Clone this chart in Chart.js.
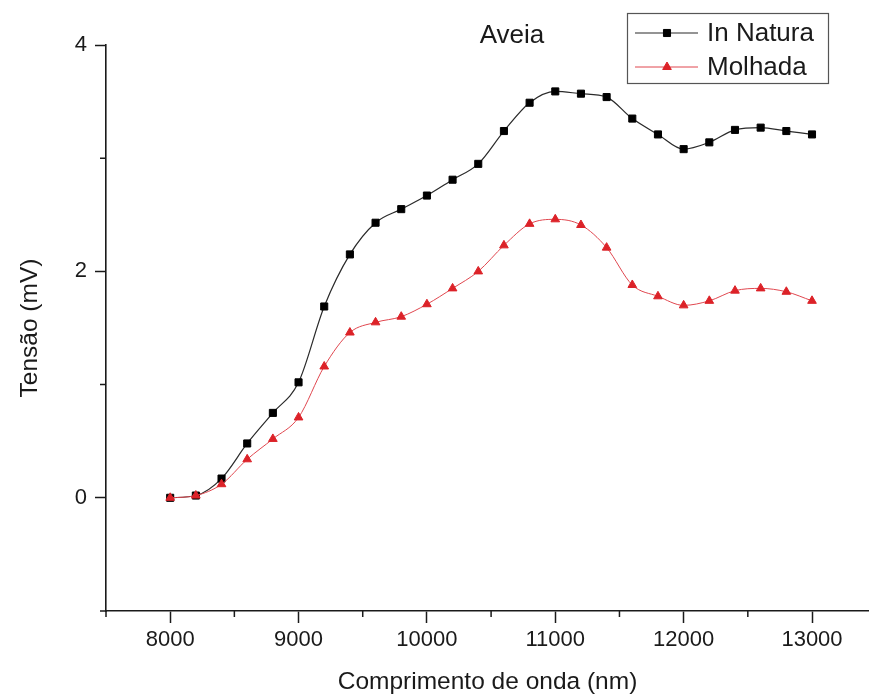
<!DOCTYPE html>
<html>
<head>
<meta charset="utf-8">
<title>Aveia</title>
<script src="https://cdn.jsdelivr.net/npm/chart.js@4.4.1/dist/chart.umd.min.js"></script>
<style>
  html, body { margin: 0; padding: 0; background: #fff; }
  canvas { display: block; }
</style>
</head>
<body>
<canvas id="chart" width="869" height="700"></canvas>
<script>
// wavelength (nm)
const wavelengths = [8000, 8200, 8400, 8600, 8800, 9000, 9200, 9400, 9600, 9800,
  10000, 10200, 10400, 10600, 10800, 11000, 11200, 11400, 11600, 11800,
  12000, 12200, 12400, 12600, 12800, 13000];

// tension (mV)
const inNatura = [0.00, 0.02, 0.17, 0.48, 0.75, 1.02, 1.69, 2.15, 2.43, 2.55,
  2.67, 2.81, 2.95, 3.24, 3.49, 3.59, 3.57, 3.54, 3.35, 3.21,
  3.08, 3.14, 3.25, 3.27, 3.24, 3.21];
const molhada = [0.00, 0.02, 0.12, 0.34, 0.52, 0.71, 1.16, 1.46, 1.55, 1.60,
  1.71, 1.85, 2.00, 2.23, 2.42, 2.46, 2.41, 2.21, 1.88, 1.78,
  1.70, 1.74, 1.83, 1.85, 1.82, 1.74];

// axis ticks
const xMajorTicks = [8000, 9000, 10000, 11000, 12000, 13000];
const xMinorTicks = [7500, 8500, 9500, 10500, 11500, 12500, 13500];
const yMajorTicks = [0, 2, 4];
const yMinorTicks = [-1, 1, 3];

const FONT = '"Liberation Sans", Arial, Helvetica, sans-serif';
const INK = '#1a1a1a';
const BLACK_LINE = '#2a2a2a';
const RED_LINE = '#e0474f';
const RED_MARK = '#dc2228';

const toPoints = ys => wavelengths.map((x, i) => ({ x: x, y: ys[i] }));

// short ticks between the labelled ones
const minorTicks = {
  id: 'minorTicks',
  afterDraw(chart) {
    const { ctx, chartArea, scales } = chart;
    ctx.save();
    ctx.strokeStyle = INK;
    ctx.lineWidth = 1.5;
    ctx.beginPath();
    xMinorTicks.forEach(v => {
      const px = scales.x.getPixelForValue(v);
      if (px < chartArea.left - 1 || px > chartArea.right + 1) return;
      ctx.moveTo(px, chartArea.bottom);
      ctx.lineTo(px, chartArea.bottom + 6);
    });
    yMinorTicks.forEach(v => {
      const py = scales.y.getPixelForValue(v);
      ctx.moveTo(chartArea.left - 6, py);
      ctx.lineTo(chartArea.left, py);
    });
    ctx.stroke();
    ctx.restore();
  }
};

// small helper for the legend samples
function drawMarker(ctx, ds, x, y) {
  ctx.fillStyle = ds.pointBackgroundColor;
  ctx.strokeStyle = ds.pointBorderColor;
  ctx.lineWidth = 1;
  Chart.helpers.drawPoint(ctx, {
    pointStyle: ds.pointStyle,
    radius: ds.pointRadius,
    borderWidth: 1,
    rotation: 0
  }, x, y);
}

// "Aveia" label and boxed legend, as in the original figure
const annotations = {
  id: 'annotations',
  afterDraw(chart) {
    const { ctx } = chart;
    ctx.save();
    ctx.fillStyle = INK;
    ctx.font = '26px ' + FONT;
    ctx.textAlign = 'center';
    ctx.textBaseline = 'middle';
    ctx.fillText('Aveia', 512, 36);

    // legend box
    const bx = 627, by = 13, bw = 201, bh = 70;
    ctx.strokeStyle = '#555';
    ctx.lineWidth = 1.2;
    ctx.strokeRect(bx + 0.5, by + 0.5, bw, bh);

    chart.data.datasets.forEach((ds, i) => {
      const y = by + 20 + i * 34;
      ctx.strokeStyle = ds.borderColor;
      ctx.lineWidth = ds.borderWidth;
      ctx.beginPath();
      ctx.moveTo(bx + 8, y);
      ctx.lineTo(bx + 71, y);
      ctx.stroke();
      drawMarker(ctx, ds, bx + 40, y);
      ctx.fillStyle = INK;
      ctx.font = '26px ' + FONT;
      ctx.textAlign = 'left';
      ctx.textBaseline = 'middle';
      ctx.fillText(ds.label, bx + 80, y + 1);
    });
    ctx.restore();
  }
};

new Chart(document.getElementById('chart'), {
  type: 'line',
  data: {
    datasets: [
      {
        label: 'In Natura',
        data: toPoints(inNatura),
        borderColor: BLACK_LINE,
        borderWidth: 1.2,
        pointStyle: 'rect',
        pointRadius: 5,
        pointBackgroundColor: '#000',
        pointBorderColor: '#000',
        pointBorderWidth: 1,
        cubicInterpolationMode: 'monotone',
        fill: false,
        order: 1
      },
      {
        label: 'Molhada',
        data: toPoints(molhada),
        borderColor: RED_LINE,
        borderWidth: 1,
        pointStyle: 'triangle',
        pointRadius: 5,
        pointBackgroundColor: RED_MARK,
        pointBorderColor: RED_MARK,
        pointBorderWidth: 1,
        cubicInterpolationMode: 'monotone',
        fill: false,
        order: 0
      }
    ]
  },
  options: {
    responsive: false,
    animation: false,
    devicePixelRatio: 1,
    layout: {
      autoPadding: false,
      padding: { top: 45, right: 0, bottom: 0, left: 0 }
    },
    plugins: {
      legend: { display: false },
      tooltip: { enabled: false },
      title: { display: false }
    },
    scales: {
      x: {
        type: 'linear',
        min: 7500,
        max: 13444,
        afterBuildTicks: s => { s.ticks = xMajorTicks.map(v => ({ value: v })); },
        afterFit: s => { s.height = 89; },
        grid: {
          drawOnChartArea: false,
          drawTicks: true,
          tickLength: 12,
          tickColor: INK,
          tickWidth: 1.5
        },
        border: { display: true, color: INK, width: 1.6 },
        ticks: {
          color: INK,
          font: { family: FONT, size: 22 },
          padding: 4,
          maxRotation: 0,
          autoSkip: false,
          callback: v => String(v)
        },
        title: {
          display: true,
          text: 'Comprimento de onda (nm)',
          color: INK,
          font: { family: FONT, size: 24.5 },
          padding: { top: 0, bottom: 3 }
        }
      },
      y: {
        type: 'linear',
        min: -1,
        max: 4,
        afterBuildTicks: s => { s.ticks = yMajorTicks.map(v => ({ value: v })); },
        afterFit: s => { s.width = 106; },
        grid: {
          drawOnChartArea: false,
          drawTicks: true,
          tickLength: 11,
          tickColor: INK,
          tickWidth: 1.5
        },
        border: { display: true, color: INK, width: 1.6 },
        ticks: {
          color: INK,
          font: { family: FONT, size: 22 },
          padding: 8,
          callback: v => String(v)
        },
        title: {
          display: true,
          text: 'Tensão (mV)',
          color: INK,
          font: { family: FONT, size: 24.5 },
          padding: { top: 16, bottom: 0 }
        }
      }
    }
  },
  plugins: [minorTicks, annotations]
});
</script>
</body>
</html>
